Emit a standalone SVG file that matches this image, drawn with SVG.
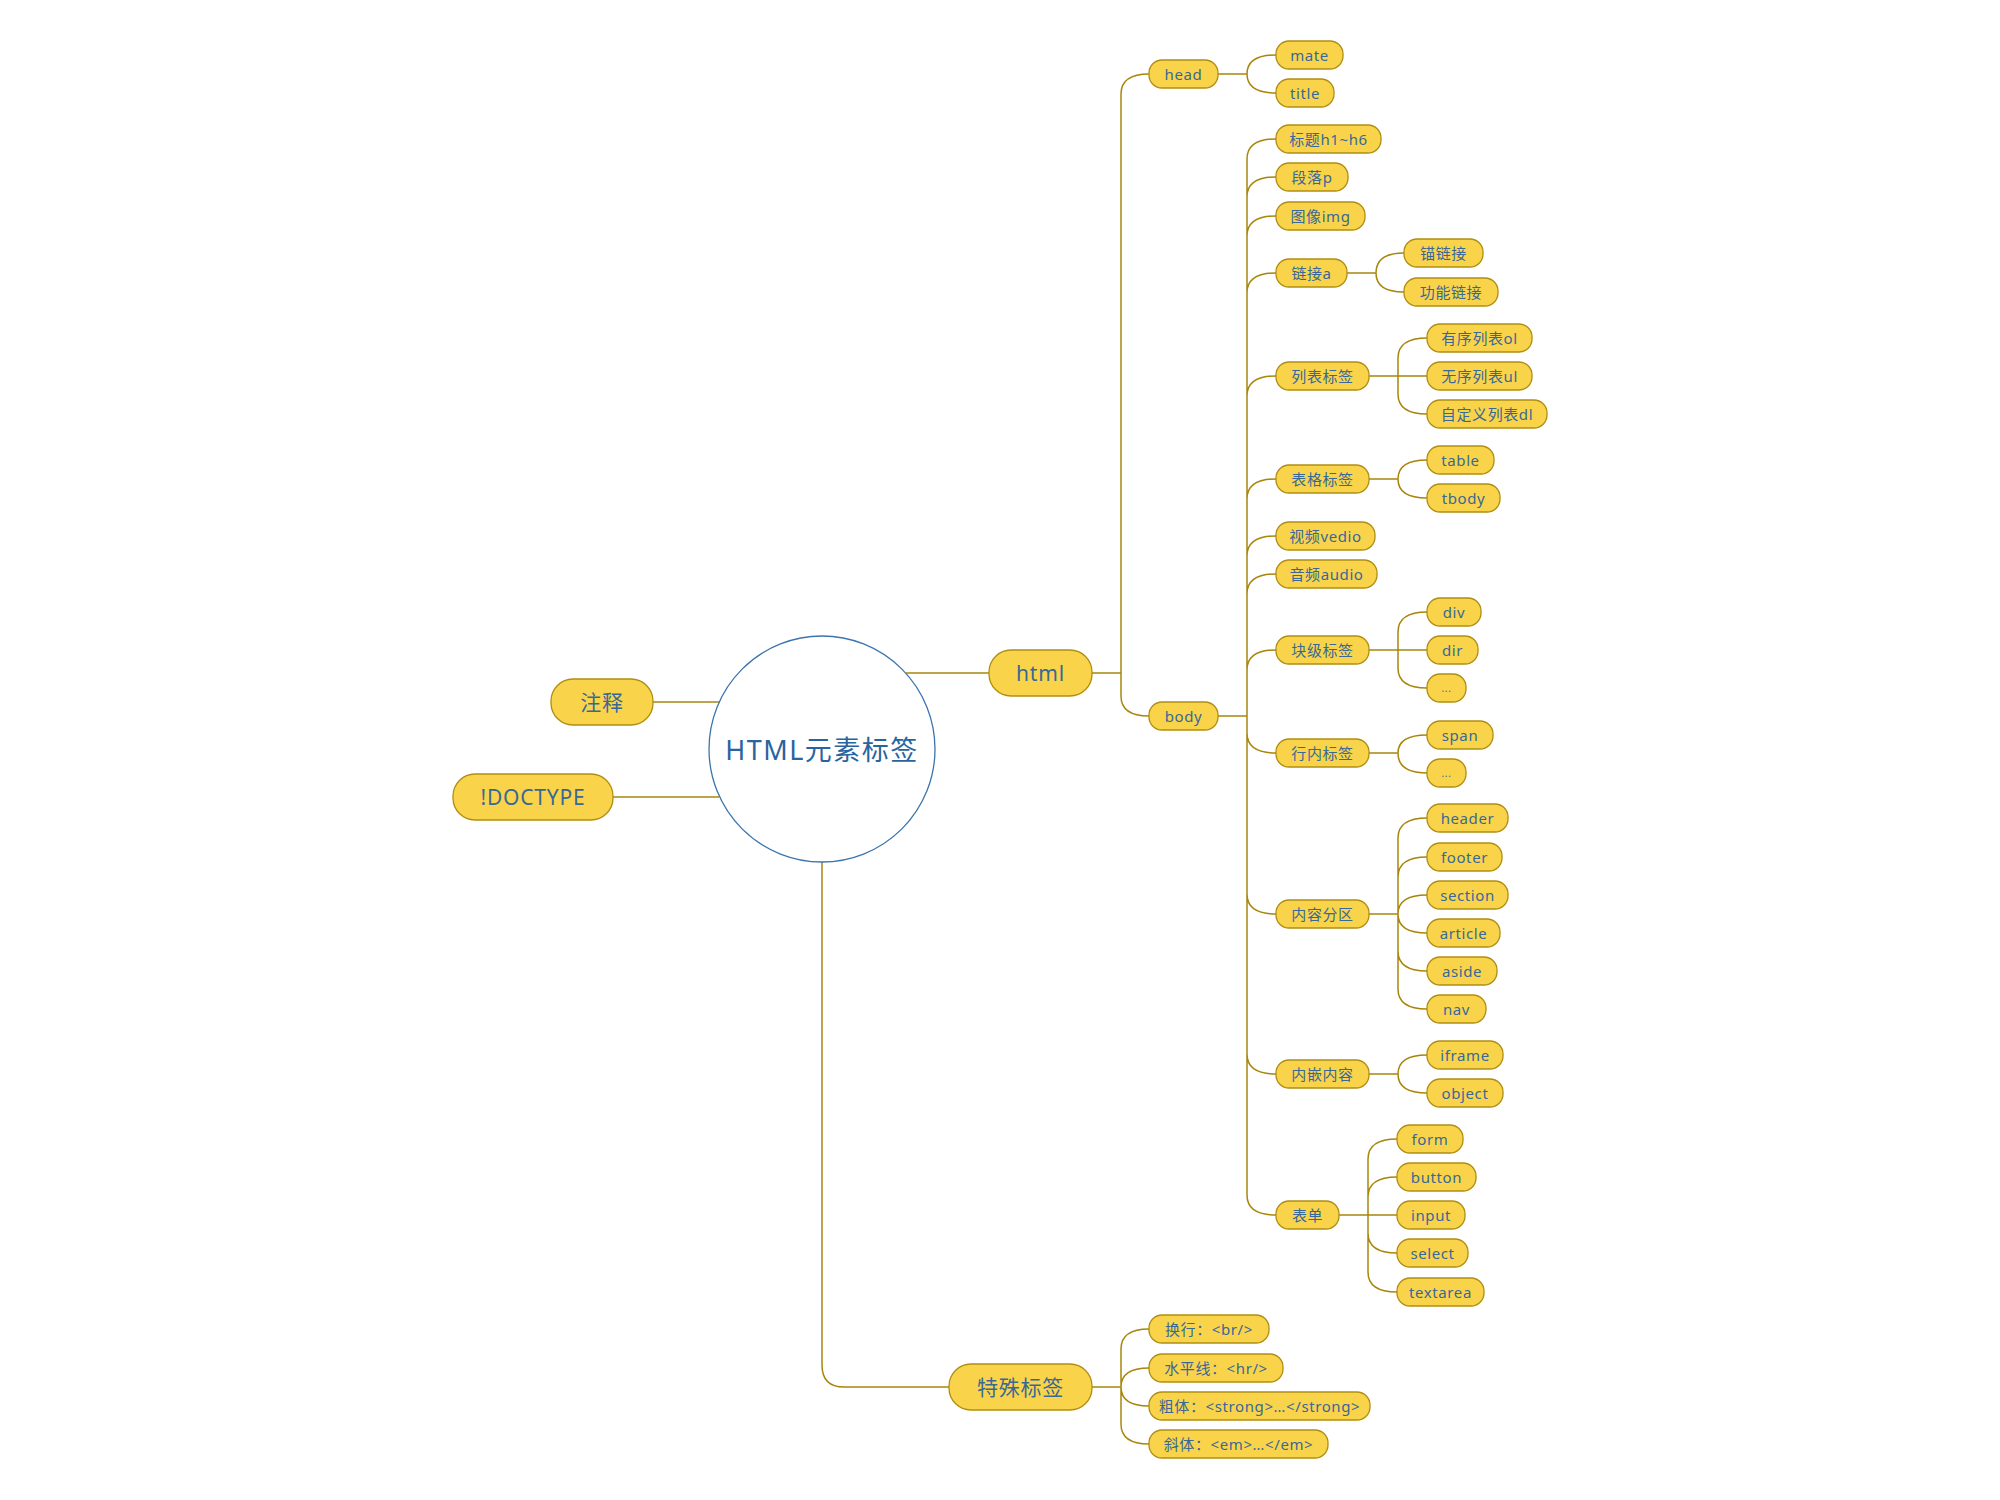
<svg xmlns="http://www.w3.org/2000/svg" width="2000" height="1500" viewBox="0 0 2000 1500">
<style>
.n{fill:#F9D44B;stroke:#B08E12;stroke-width:1.3}
.t{font-family:"Noto Sans","Noto Sans CJK SC",sans-serif;font-size:15px;fill:#3A6896;text-anchor:middle;dominant-baseline:central;letter-spacing:0.6px}
.b{font-size:21px;letter-spacing:0.8px}
.c{fill:none;stroke:#A8860C;stroke-width:1.5}
.root{fill:#FFFFFF;stroke:#3C74AE;stroke-width:1.3}
.rt{font-family:"Noto Sans","Noto Sans CJK SC",sans-serif;font-size:27px;fill:#2A649E;text-anchor:middle;dominant-baseline:central;letter-spacing:1.5px}
</style>
<rect width="2000" height="1500" fill="#FFFFFF"/>
<g id="connectors">
<path class="c" d="M906 673H989M653 702H719M613 797H719M822 862V1365Q822 1387 844 1387H949"/>
<path class="c" d="M1092 673H1121M1121 673V94Q1121 74 1149 74M1121 673V696Q1121 716 1149 716"/>
<path class="c" d="M1218 74H1247M1247 74Q1247 55 1276 55M1247 74Q1247 93 1276 93"/>
<path class="c" d="M1218 716H1247M1247 716V159Q1247 139 1276 139M1247 716V197Q1247 177 1276 177M1247 716V236Q1247 216 1276 216M1247 716V293Q1247 273 1276 273M1247 716V396Q1247 376 1276 376M1247 716V499Q1247 479 1276 479M1247 716V556Q1247 536 1276 536M1247 716V594Q1247 574 1276 574M1247 716V670Q1247 650 1276 650M1247 716V733Q1247 753 1276 753M1247 716V894Q1247 914 1276 914M1247 716V1054Q1247 1074 1276 1074M1247 716V1195Q1247 1215 1276 1215"/>
<path class="c" d="M1347 273H1376M1376 273Q1376 253 1404 253M1376 273Q1376 292 1404 292"/>
<path class="c" d="M1369 376H1398M1398 376V358Q1398 338 1427 338M1398 376H1427M1398 376V394Q1398 414 1427 414"/>
<path class="c" d="M1369 479H1398M1398 479Q1398 460 1427 460M1398 479Q1398 498 1427 498"/>
<path class="c" d="M1369 650H1398M1398 650V632Q1398 612 1427 612M1398 650H1427M1398 650V668Q1398 688 1427 688"/>
<path class="c" d="M1369 753H1398M1398 753Q1398 735 1427 735M1398 753Q1398 773 1427 773"/>
<path class="c" d="M1369 914H1398M1398 914V838Q1398 818 1427 818M1398 914V877Q1398 857 1427 857M1398 914Q1398 895 1427 895M1398 914Q1398 933 1427 933M1398 914V951Q1398 971 1427 971M1398 914V989Q1398 1009 1427 1009"/>
<path class="c" d="M1369 1074H1398M1398 1074Q1398 1055 1427 1055M1398 1074Q1398 1093 1427 1093"/>
<path class="c" d="M1339 1215H1368M1368 1215V1159Q1368 1139 1397 1139M1368 1215V1197Q1368 1177 1397 1177M1368 1215H1397M1368 1215V1233Q1368 1253 1397 1253M1368 1215V1272Q1368 1292 1397 1292"/>
<path class="c" d="M1092 1387H1121M1121 1387V1349Q1121 1329 1149 1329M1121 1387Q1121 1368 1149 1368M1121 1387Q1121 1406 1149 1406M1121 1387V1424Q1121 1444 1149 1444"/>
</g>
<g id="root"><circle class="root" cx="822" cy="749" r="113"/><text class="rt" x="822" y="749">HTML元素标签</text></g>
<g id="n-zhushi"><rect class="n" x="551" y="679" width="102" height="46" rx="22"/><text class="t b" x="602" y="702">注释</text></g>
<g id="n-doctype"><rect class="n" x="453" y="774" width="160" height="46" rx="22"/><text class="t b" x="533" y="797">!DOCTYPE</text></g>
<g id="n-html"><rect class="n" x="989" y="650" width="103" height="46" rx="22"/><text class="t b" x="1040.5" y="673">html</text></g>
<g id="n-special"><rect class="n" x="949" y="1364" width="143" height="46" rx="22"/><text class="t b" x="1020.5" y="1387">特殊标签</text></g>
<g id="n-head"><rect class="n" x="1149" y="60" width="69" height="28" rx="13"/><text class="t" x="1183.5" y="74">head</text></g>
<g id="n-mate"><rect class="n" x="1276" y="41" width="67" height="28" rx="13"/><text class="t" x="1309.5" y="55">mate</text></g>
<g id="n-title"><rect class="n" x="1276" y="79" width="58" height="28" rx="13"/><text class="t" x="1305" y="93">title</text></g>
<g id="n-body"><rect class="n" x="1149" y="702" width="69" height="28" rx="13"/><text class="t" x="1183.5" y="716">body</text></g>
<g id="n-h"><rect class="n" x="1276" y="125" width="105" height="28" rx="13"/><text class="t" x="1328.5" y="139">标题h1~h6</text></g>
<g id="n-p"><rect class="n" x="1276" y="163" width="72" height="28" rx="13"/><text class="t" x="1312" y="177">段落p</text></g>
<g id="n-img"><rect class="n" x="1276" y="202" width="89" height="28" rx="13"/><text class="t" x="1320.5" y="216">图像img</text></g>
<g id="n-a"><rect class="n" x="1276" y="259" width="71" height="28" rx="13"/><text class="t" x="1311.5" y="273">链接a</text></g>
<g id="n-anchor"><rect class="n" x="1404" y="239" width="79" height="28" rx="13"/><text class="t" x="1443.5" y="253">锚链接</text></g>
<g id="n-funclink"><rect class="n" x="1404" y="278" width="94" height="28" rx="13"/><text class="t" x="1451" y="292">功能链接</text></g>
<g id="n-list"><rect class="n" x="1276" y="362" width="93" height="28" rx="13"/><text class="t" x="1322.5" y="376">列表标签</text></g>
<g id="n-ol"><rect class="n" x="1427" y="324" width="105" height="28" rx="13"/><text class="t" x="1479.5" y="338">有序列表ol</text></g>
<g id="n-ul"><rect class="n" x="1427" y="362" width="105" height="28" rx="13"/><text class="t" x="1479.5" y="376">无序列表ul</text></g>
<g id="n-dl"><rect class="n" x="1427" y="400" width="120" height="28" rx="13"/><text class="t" x="1487" y="414">自定义列表dl</text></g>
<g id="n-tablegrp"><rect class="n" x="1276" y="465" width="93" height="28" rx="13"/><text class="t" x="1322.5" y="479">表格标签</text></g>
<g id="n-table"><rect class="n" x="1427" y="446" width="67" height="28" rx="13"/><text class="t" x="1460.5" y="460">table</text></g>
<g id="n-tbody"><rect class="n" x="1427" y="484" width="73" height="28" rx="13"/><text class="t" x="1463.5" y="498">tbody</text></g>
<g id="n-video"><rect class="n" x="1276" y="522" width="99" height="28" rx="13"/><text class="t" x="1325.5" y="536">视频vedio</text></g>
<g id="n-audio"><rect class="n" x="1276" y="560" width="101" height="28" rx="13"/><text class="t" x="1326.5" y="574">音频audio</text></g>
<g id="n-block"><rect class="n" x="1276" y="636" width="93" height="28" rx="13"/><text class="t" x="1322.5" y="650">块级标签</text></g>
<g id="n-div"><rect class="n" x="1427" y="598" width="54" height="28" rx="13"/><text class="t" x="1454" y="612">div</text></g>
<g id="n-dir"><rect class="n" x="1427" y="636" width="51" height="28" rx="13"/><text class="t" x="1452.5" y="650">dir</text></g>
<g id="n-blockmore"><rect class="n" x="1427" y="674" width="39" height="28" rx="13"/><text class="t" x="1446.5" y="688" style="font-size:10px">...</text></g>
<g id="n-inline"><rect class="n" x="1276" y="739" width="93" height="28" rx="13"/><text class="t" x="1322.5" y="753">行内标签</text></g>
<g id="n-span"><rect class="n" x="1427" y="721" width="66" height="28" rx="13"/><text class="t" x="1460" y="735">span</text></g>
<g id="n-inlinemore"><rect class="n" x="1427" y="759" width="39" height="28" rx="13"/><text class="t" x="1446.5" y="773" style="font-size:10px">...</text></g>
<g id="n-section-grp"><rect class="n" x="1276" y="900" width="93" height="28" rx="13"/><text class="t" x="1322.5" y="914">内容分区</text></g>
<g id="n-header"><rect class="n" x="1427" y="804" width="81" height="28" rx="13"/><text class="t" x="1467.5" y="818">header</text></g>
<g id="n-footer"><rect class="n" x="1427" y="843" width="75" height="28" rx="13"/><text class="t" x="1464.5" y="857">footer</text></g>
<g id="n-section"><rect class="n" x="1427" y="881" width="81" height="28" rx="13"/><text class="t" x="1467.5" y="895">section</text></g>
<g id="n-article"><rect class="n" x="1427" y="919" width="73" height="28" rx="13"/><text class="t" x="1463.5" y="933">article</text></g>
<g id="n-aside"><rect class="n" x="1427" y="957" width="70" height="28" rx="13"/><text class="t" x="1462" y="971">aside</text></g>
<g id="n-nav"><rect class="n" x="1427" y="995" width="59" height="28" rx="13"/><text class="t" x="1456.5" y="1009">nav</text></g>
<g id="n-embed"><rect class="n" x="1276" y="1060" width="93" height="28" rx="13"/><text class="t" x="1322.5" y="1074">内嵌内容</text></g>
<g id="n-iframe"><rect class="n" x="1427" y="1041" width="76" height="28" rx="13"/><text class="t" x="1465" y="1055">iframe</text></g>
<g id="n-object"><rect class="n" x="1427" y="1079" width="76" height="28" rx="13"/><text class="t" x="1465" y="1093">object</text></g>
<g id="n-formgrp"><rect class="n" x="1276" y="1201" width="63" height="28" rx="13"/><text class="t" x="1307.5" y="1215">表单</text></g>
<g id="n-form"><rect class="n" x="1397" y="1125" width="66" height="28" rx="13"/><text class="t" x="1430" y="1139">form</text></g>
<g id="n-button"><rect class="n" x="1397" y="1163" width="79" height="28" rx="13"/><text class="t" x="1436.5" y="1177">button</text></g>
<g id="n-input"><rect class="n" x="1397" y="1201" width="68" height="28" rx="13"/><text class="t" x="1431" y="1215">input</text></g>
<g id="n-select"><rect class="n" x="1397" y="1239" width="71" height="28" rx="13"/><text class="t" x="1432.5" y="1253">select</text></g>
<g id="n-textarea"><rect class="n" x="1397" y="1278" width="87" height="28" rx="13"/><text class="t" x="1440.5" y="1292">textarea</text></g>
<g id="n-br"><rect class="n" x="1149" y="1315" width="120" height="28" rx="13"/><text class="t" x="1209" y="1329">换行：&lt;br/&gt;</text></g>
<g id="n-hr"><rect class="n" x="1149" y="1354" width="134" height="28" rx="13"/><text class="t" x="1216" y="1368">水平线：&lt;hr/&gt;</text></g>
<g id="n-strong"><rect class="n" x="1149" y="1392" width="221" height="28" rx="13"/><text class="t" x="1259.5" y="1406">粗体：&lt;strong&gt;…&lt;/strong&gt;</text></g>
<g id="n-em"><rect class="n" x="1149" y="1430" width="179" height="28" rx="13"/><text class="t" x="1238.5" y="1444">斜体：&lt;em&gt;…&lt;/em&gt;</text></g>
</svg>
